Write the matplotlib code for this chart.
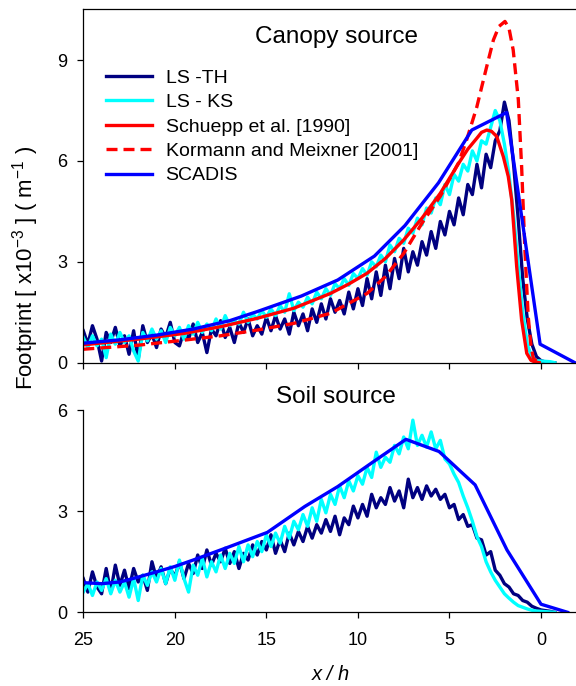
import numpy as np
import matplotlib
matplotlib.use("Agg")
import matplotlib.pyplot as plt

plt.rcParams['font.family'] = ['Liberation Sans', 'DejaVu Sans']
plt.rcParams['mathtext.fontset'] = 'custom'
plt.rcParams['mathtext.rm'] = 'Liberation Sans'

# ---- data -------------------------------------------------------------
# common sampling grid for the Lagrangian-stochastic curves (x/h, 25 -> 0)
x_ls = np.arange(25, -0.01, -0.25)
x_tail = [-0.25, -0.5, -0.75]

# canopy source
canopy_ls_th = [
    0.95, 0.55, 1.1, 0.7, 0.05, 0.9, 0.6, 1.05, 0.5, 0.8, 0.25, 0.95, 0.1, 1.1, 0.6, 0.85, 0.45, 1.0, 0.75, 1.2, 0.6,
    0.5, 0.95, 0.7, 1.15, 0.6, 0.9, 0.3, 1.0, 0.8, 1.25, 0.75, 1.05, 0.6, 1.2, 0.9, 1.3, 0.8, 1.1, 0.85, 1.35,
    0.95, 1.4, 1.0, 1.3, 0.85, 1.5, 1.1, 1.45, 0.95, 1.6, 1.2, 1.75, 1.3, 1.9, 1.5, 1.85, 1.45, 2.1, 1.6, 2.2,
    1.7, 2.5, 1.9, 2.7, 2.0, 2.9, 2.2, 3.1, 2.5, 3.4, 2.7, 3.3, 2.9, 3.6, 3.2, 3.9, 3.4, 4.2, 3.8, 4.5,
    4.1, 4.9, 4.4, 5.3, 5.0, 5.9, 5.2, 6.2, 5.8, 6.6, 6.9, 7.75,
    7.2, 5.9, 4.3, 2.5, 1.3, 0.55, 0.18, 0.06,
]
canopy_ls_th_tail = [0.02, 0.0, 0.0]

canopy_ls_ks = [
    0.75, 0.45, 0.8, 0.5, 0.7, 0.15, 0.85, 0.55, 0.9, 0.6, 0.8, 0.35, 0.05, 0.9, 0.65, 1.0, 0.7, 0.95, 0.6, 1.05, 0.8,
    1.05, 0.7, 1.1, 0.85, 1.2, 0.9, 1.15, 0.95, 1.3, 1.0, 1.4, 1.1, 1.25, 1.15, 1.5, 1.2, 1.45, 1.3, 1.55, 1.35,
    1.6, 1.4, 1.7, 1.5, 2.05, 1.55, 1.8, 1.65, 1.95, 1.75, 2.1, 1.9, 2.2, 2.0, 2.35, 2.2, 2.5, 2.3, 2.65, 2.5,
    2.8, 2.6, 3.0, 2.85, 3.2, 3.0, 3.5, 3.3, 3.7, 3.55, 4.0, 3.85, 4.3, 4.1, 4.6, 4.45, 4.9, 4.7, 5.3, 5.0,
    5.6, 5.4, 5.9, 5.7, 6.3, 6.0, 6.6, 6.5, 7.0, 7.5, 7.2, 6.5,
    5.6, 4.4, 2.9, 1.5, 0.55, 0.15, 0.06, 0.05,
]
canopy_ls_ks_tail = [0.04, 0.03, 0.0]

schuepp_x = [25, 22, 19.5, 17.5, 15.5, 13.5, 11.5, 10.5, 9.5, 8.5, 7.5, 6.5, 5.5, 4.5, 4.0, 3.5, 3.25, 2.96,
             2.7, 2.42, 2.06, 1.79, 1.6, 1.33, 1.06, 0.78, 0.55, 0.33, 0.1]
schuepp_y = [0.53, 0.7, 0.87, 1.07, 1.32, 1.62, 2.06, 2.34, 2.66, 3.1, 3.65, 4.3, 5.04, 5.93, 6.35, 6.68, 6.85, 6.92,
             6.88, 6.73, 6.13, 5.54, 4.84, 2.86, 1.27, 0.28, 0.07, 0.02, 0.0]

kormann_x = [25, 22, 19.5, 17.5, 15.5, 13.5, 11.5, 9.5, 8.5, 7.5, 6.5, 5.5, 4.5, 4.06, 3.51, 2.97, 2.6, 2.3,
             1.97, 1.75, 1.52, 1.24, 1.06, 0.88, 0.70, 0.55, 0.42, 0.15]
kormann_y = [0.40, 0.52, 0.67, 0.8, 0.97, 1.17, 1.47, 2.06, 2.56, 3.25, 4.15, 4.95, 5.95, 6.63, 7.6, 8.8, 9.6, 10.0,
             10.15, 9.95, 9.3, 7.82, 5.83, 3.35, 1.37, 0.5, 0.13, 0.0]

canopy_scadis_x = [25, 23, 21, 19, 17, 15.5, 13.1, 11.1, 9.1, 7.43, 5.6, 3.78, 1.88, 0.05, -1.85]
canopy_scadis_y = [0.58, 0.68, 0.82, 1.0, 1.25, 1.52, 1.98, 2.46, 3.17, 4.08, 5.35, 6.92, 7.44, 0.55, 0.0]

# soil source
soil_ls_th = [
    1.0, 0.6, 1.2, 0.75, 0.55, 1.3, 0.6, 1.4, 0.8, 1.25, 0.7, 1.3, 0.9, 1.1, 0.65, 1.5, 1.0, 1.35, 0.85, 1.3, 1.05,
    1.5, 1.0, 1.45, 1.15, 1.7, 1.3, 1.85, 1.4, 1.75, 1.5, 1.9, 1.45, 1.8, 1.3, 1.75, 1.55, 2.0, 1.7, 2.1, 1.85,
    2.3, 1.75, 2.15, 1.8, 2.35, 2.0, 2.4, 2.1, 2.55, 2.2, 2.6, 2.35, 2.75, 2.4, 2.85, 2.3, 2.8, 2.6, 3.15, 2.8,
    3.2, 2.85, 3.5, 3.1, 3.4, 3.2, 3.7, 3.3, 3.6, 3.1, 3.95, 3.4, 3.7, 3.35, 3.75, 3.45, 3.65, 3.35, 3.5, 3.1,
    3.2, 2.75, 2.9, 2.55, 2.6, 2.2, 2.15, 1.7, 1.8, 1.25, 1.1, 0.85, 0.75, 0.55, 0.5, 0.35, 0.3, 0.18, 0.12, 0.07,
]
soil_ls_th_tail = [0.05, 0.03, 0.0]

soil_ls_ks = [
    0.6, 0.85, 0.5, 0.9, 0.65, 1.0, 0.55, 0.95, 0.6, 0.9, 0.45, 1.0, 0.35, 1.1, 0.8, 1.2, 0.9, 1.3, 0.85, 1.35, 0.95,
    1.55, 1.0, 0.6, 1.4, 1.1, 1.6, 1.05, 1.5, 1.2, 1.7, 1.3, 1.75, 1.45, 1.95, 1.5, 2.0, 1.65, 2.1, 1.8, 2.3,
    1.95, 2.35, 2.05, 2.55, 2.2, 2.7, 2.45, 2.9, 2.55, 3.1, 2.7, 3.35, 2.95, 3.5, 3.2, 3.75, 3.4, 3.9, 3.6, 4.05,
    3.8, 4.3, 4.0, 4.75, 4.3, 4.6, 4.45, 4.95, 4.7, 5.2, 4.85, 5.7, 4.95, 5.25, 4.9, 5.35, 4.85, 5.1, 4.55, 4.4,
    4.1, 3.85, 3.45, 3.1, 2.7, 2.25, 1.95, 1.5, 1.2, 0.95, 0.75, 0.55, 0.42, 0.3, 0.2, 0.15, 0.1, 0.06, 0.04, 0.03,
]
soil_ls_ks_tail = [0.02, 0.01, 0.0]

soil_scadis_x = [25, 24, 23, 22.3, 21, 20, 19, 17, 14.95, 12.9, 11.1, 9.2, 7.38, 5.57, 3.6, 1.86, 0.0, -1.45]
soil_scadis_y = [0.88, 0.85, 0.9, 1.0, 1.2, 1.36, 1.55, 1.95, 2.37, 3.14, 3.73, 4.45, 5.13, 4.77, 3.78, 1.85, 0.24, 0.0]

labels = ["LS -TH", "LS - KS", "Schuepp et al. [1990]", "Kormann and Meixner [2001]", "SCADIS"]

# ---- style ------------------------------------------------------------
c_th = "#000080"
c_ks = "#00ffff"
c_red = "#ff0000"
c_blue = "#0000ff"
lw = 2.4
tick_fs = 13

fig = plt.figure(figsize=(5.76, 6.86), dpi=100)
ax1 = fig.add_axes([0.1446, 0.4713, 0.8554, 0.5156])
ax2 = fig.add_axes([0.1446, 0.1074, 0.8554, 0.2949])

xs = list(x_ls) + x_tail

# canopy panel
ax1.plot(xs, canopy_ls_th + canopy_ls_th_tail, color=c_th, lw=lw, label=labels[0])
ax1.plot(xs, canopy_ls_ks + canopy_ls_ks_tail, color=c_ks, lw=lw, label=labels[1])
ax1.plot(schuepp_x, schuepp_y, color=c_red, lw=lw, label=labels[2])
ax1.plot(kormann_x, kormann_y, color=c_red, lw=lw, dashes=(3.3, 1.8), label=labels[3])
ax1.plot(canopy_scadis_x, canopy_scadis_y, color=c_blue, lw=lw, label=labels[4])

# soil panel
ax2.plot(xs, soil_ls_th + soil_ls_th_tail, color=c_th, lw=lw)
ax2.plot(xs, soil_ls_ks + soil_ls_ks_tail, color=c_ks, lw=lw)
ax2.plot(soil_scadis_x, soil_scadis_y, color=c_blue, lw=lw)

for ax in (ax1, ax2):
    ax.set_xlim(25, -1.91)
    ax.set_xticks([25, 20, 15, 10, 5, 0])
    ax.spines['right'].set_visible(False)
    for s in ax.spines.values():
        s.set_linewidth(0.9)
    ax.tick_params(direction='out', length=4, width=0.9, labelsize=tick_fs)
    ax.tick_params(axis='y', pad=7.5)
    ax.tick_params(axis='x', pad=10)

ax1.set_ylim(0, 10.52)
ax1.set_yticks([0, 3, 6, 9])
ax1.tick_params(axis='x', labelbottom=False)

ax2.set_ylim(0, 6)
ax2.set_yticks([0, 3, 6])
ax2.spines['top'].set_visible(False)

ax1.text(0.513, 0.905, "Canopy source", transform=ax1.transAxes, ha='center', va='baseline', fontsize=17.5)
ax2.text(0.513, 1.033, "Soil source", transform=ax2.transAxes, ha='center', va='baseline', fontsize=17.5)

ax1.legend(loc='upper left', bbox_to_anchor=(0.047, 0.830), frameon=False, fontsize=14,
           handlelength=2.35, handletextpad=0.69, labelspacing=0.35, borderpad=0, borderaxespad=0)

fig.text(331 / 576, 1 - 675 / 686, "x / h", ha='center', va='center', fontsize=14.5, style='italic')
fig.text(26 / 576, 1 - 268 / 686, r"Footprint [ x10$^{-3}$ ] ( m$^{-1}$ )", ha='center', va='center',
         rotation=90, fontsize=16)

fig.savefig("out.png", dpi=100)
